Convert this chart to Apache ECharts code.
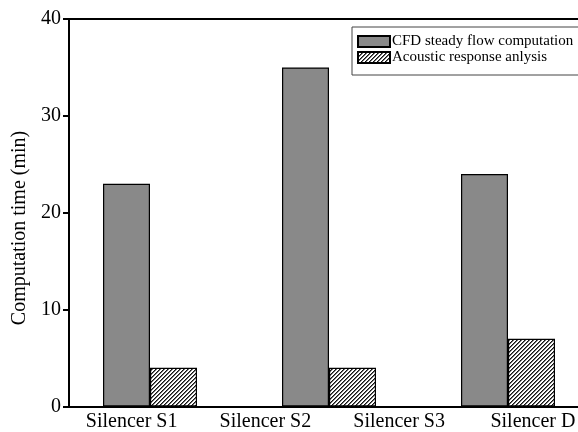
<!DOCTYPE html>
<html>
<head>
<meta charset="utf-8">
<script src="https://cdn.jsdelivr.net/npm/echarts@6/dist/echarts.min.js"></script>
<style>html,body{margin:0;padding:0;background:#fff}#c{width:578px;height:432px}</style>
</head>
<body>
<div id="c"></div>
<script>
var labelCategories = ['Silencer S1', 'Silencer S2', 'Silencer S3', 'Silencer D'];
var barGroups = ['G1', 'G2', 'G3'];
var cfdValues = [23, 35, 24];
var acousticValues = [4, 4, 7];
var yTicks = [0, 10, 20, 30, 40];
var seriesNames = ['CFD steady flow computation', 'Acoustic response anlysis'];
var yAxisTitle = 'Computation time (min)';

var FONT = "'Liberation Serif', 'Times New Roman', serif";

var pc = document.createElement('canvas');
pc.width = 4; pc.height = 4;
var g = pc.getContext('2d');
var img = g.createImageData(4, 4);
for (var yy = 0; yy < 4; yy++) {
  for (var xx = 0; xx < 4; xx++) {
    var k = (yy * 4 + xx) * 4;
    var m = (xx + yy) % 4;
    var v = m === 0 ? 20 : (m === 1 ? 110 : 255);
    img.data[k] = v; img.data[k + 1] = v; img.data[k + 2] = v; img.data[k + 3] = 255;
  }
}
g.putImageData(img, 0, 0);

var gTop = 19, gBottom = 25.5;
var chart = echarts.init(document.getElementById('c'), null, {renderer: 'canvas'});
chart.setOption({
  animation: false,
  backgroundColor: '#fff',
  grid: [
    {left: 69, right: -20, top: gTop, bottom: gBottom, outerBoundsMode: 'none', containLabel: false},
    {left: 60.5, width: 537, top: gTop, bottom: gBottom, outerBoundsMode: 'none', containLabel: false},
    {left: 64.75, width: 535, top: gTop, bottom: gBottom, outerBoundsMode: 'none', containLabel: false}
  ],
  xAxis: [
    {gridIndex: 0, type: 'category', data: labelCategories, position: 'bottom',
     axisLine: {lineStyle: {color: '#000', width: 2}}, axisTick: {show: false}, axisLabel: {show: false}},
    {gridIndex: 0, type: 'category', data: labelCategories, position: 'top',
     axisLine: {lineStyle: {color: '#000', width: 2}}, axisTick: {show: false}, axisLabel: {show: false}},
    {gridIndex: 1, type: 'category', data: barGroups, show: false},
    {gridIndex: 2, type: 'category', data: labelCategories,
     axisLine: {show: false}, axisTick: {show: false},
     axisLabel: {color: '#000', fontFamily: FONT, fontSize: 20, margin: 5}}
  ],
  yAxis: [
    {gridIndex: 0, type: 'value', min: yTicks[0], max: yTicks[yTicks.length - 1], interval: 10,
     axisLine: {show: true, lineStyle: {color: '#000', width: 2}},
     axisTick: {show: true, inside: false, length: 6, lineStyle: {color: '#000', width: 2}},
     axisLabel: {color: '#000', fontFamily: FONT, fontSize: 20, margin: 8},
     splitLine: {show: false}},
    {gridIndex: 1, type: 'value', min: 0, max: 40, show: false},
    {gridIndex: 2, type: 'value', min: 0, max: 40, show: false}
  ],
  legend: {
    orient: 'vertical', left: 352, top: 27, width: 225,
    padding: [7, 40, 10, 5], itemGap: 1, itemWidth: 32, itemHeight: 11,
    icon: 'rect',
    borderColor: '#444', borderWidth: 1, backgroundColor: '#fff',
    textStyle: {fontFamily: FONT, fontSize: 15, color: '#000', padding: [0, 0, 0, -3]},
    data: seriesNames
  },
  series: [
    {name: seriesNames[0], type: 'bar', xAxisIndex: 2, yAxisIndex: 1, data: cfdValues,
     barWidth: 47, barGap: '0%',
     itemStyle: {color: '#898989', borderColor: '#000', borderWidth: 1.2}},
    {name: seriesNames[1], type: 'bar', xAxisIndex: 2, yAxisIndex: 1, data: acousticValues,
     barWidth: 47, barGap: '0%',
     itemStyle: {color: {image: pc, repeat: 'repeat'}, borderColor: '#000', borderWidth: 1.2}}
  ],
  graphic: [
    {type: 'text', x: 20, y: 228, rotation: Math.PI / 2,
     style: {text: yAxisTitle, fontFamily: FONT, fontSize: 20, fill: '#000',
              align: 'center', verticalAlign: 'middle'}}
  ]
});
</script>
</body>
</html>
